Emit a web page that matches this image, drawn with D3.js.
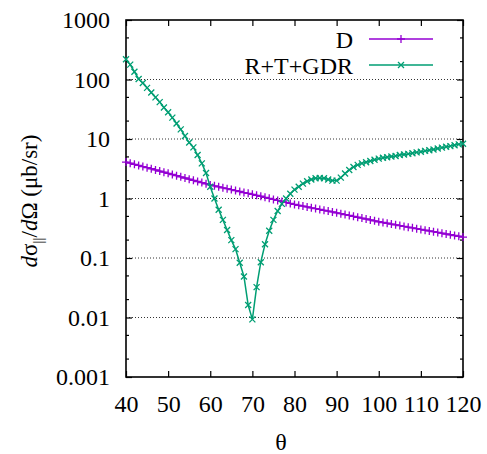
<!DOCTYPE html>
<html>
<head>
<meta charset="utf-8">
<script src="https://cdn.jsdelivr.net/npm/d3@7"></script>
</head>
<body style="margin:0">
<div id="chart"></div>
<script>
// angles, one point per degree
var theta = d3.range(40, 121);

// D
var dValues = [4.10, 3.93, 3.76, 3.60, 3.44, 3.30, 3.16, 3.02, 2.89, 2.77,
  2.65, 2.53, 2.42, 2.31, 2.21, 2.11, 2.02, 1.93, 1.85, 1.77,
  1.69, 1.63, 1.57, 1.51, 1.46, 1.41, 1.36, 1.31, 1.26, 1.22,
  1.175, 1.13, 1.09, 1.045, 1.005, 0.966, 0.929, 0.893, 0.859, 0.826,
  0.794, 0.769, 0.745, 0.721, 0.698, 0.676, 0.655, 0.634, 0.614, 0.594,
  0.575, 0.556, 0.537, 0.519, 0.501, 0.484, 0.468, 0.452, 0.437, 0.422,
  0.407, 0.395, 0.384, 0.372, 0.361, 0.351, 0.340, 0.330, 0.321, 0.311,
  0.302, 0.293, 0.285, 0.277, 0.269, 0.261, 0.253, 0.246, 0.239, 0.232,
  0.225];

// R+T+GDR
var rtgValues = [219, 178, 135, 102, 87.1, 72.4, 60.3, 50.1, 41.7, 33.9,
  28.2, 22.9, 18.2, 14.5, 11.2, 8.71, 7.24, 5.37, 3.89, 2.69,
  1.58, 1.0, 0.646, 0.437, 0.295, 0.2, 0.141, 0.0832, 0.049, 0.0162,
  0.0093, 0.0324, 0.0851, 0.17, 0.288, 0.437, 0.617, 0.813, 1.0, 1.2,
  1.41, 1.58, 1.78, 1.95, 2.09, 2.19, 2.21, 2.19, 2.09, 2.0,
  2.0, 2.24, 2.63, 3.02, 3.39, 3.67, 3.89, 4.07, 4.27, 4.47,
  4.68, 4.84, 4.95, 5.07, 5.19, 5.37, 5.5, 5.62, 5.75, 5.96,
  6.1, 6.31, 6.46, 6.68, 6.92, 7.16, 7.41, 7.59, 7.85, 8.13,
  8.32];

var xTicks = [40, 50, 60, 70, 80, 90, 100, 110, 120];
var yTicks = [0.001, 0.01, 0.1, 1, 10, 100, 1000];
var yTickLabels = ["0.001", "0.01", "0.1", "1", "10", "100", "1000"];
var minorMult = [2, 5];

var seriesNames = ["D", "R+T+GDR"];
var seriesColors = ["#9400d3", "#009e73"];

var svgWidth = 487;
var svgHeight = 454;
var margin = { top: 20, right: 24, bottom: 77, left: 126 };
var width = svgWidth - margin.left - margin.right;
var height = svgHeight - margin.top - margin.bottom;

var svg = d3.select("#chart")
  .append("svg")
  .attr("width", svgWidth)
  .attr("height", svgHeight);

var chartGroup = svg.append("g")
  .attr("transform", `translate(${margin.left}, ${margin.top})`);

var xScale = d3.scaleLinear().domain([40, 120]).range([0, width]);
var yScale = d3.scaleLog().domain([0.001, 1000]).range([height, 0]);

// grid
chartGroup.selectAll(".grid")
  .data(yTicks.slice(1, -1))
  .enter()
  .append("line")
  .attr("x1", 0)
  .attr("x2", width)
  .attr("y1", d => yScale(d))
  .attr("y2", d => yScale(d))
  .attr("stroke", "#333")
  .attr("stroke-width", 1)
  .attr("stroke-dasharray", "1,2");

// axes, ticks pointing inward
var bottomAxis = d3.axisBottom(xScale).tickValues(xTicks).tickSize(-6).tickPadding(18);
var topAxis = d3.axisTop(xScale).tickValues(xTicks).tickSize(-6).tickFormat("");
var leftAxis = d3.axisLeft(yScale).tickValues(yTicks).tickSize(-6).tickPadding(16)
  .tickFormat((d, i) => yTickLabels[i]);
var rightAxis = d3.axisRight(yScale).tickValues(yTicks).tickSize(-6).tickFormat("");

function styleAxis(g) {
  g.attr("font-family", "Liberation Serif").attr("font-size", 24);
  g.select(".domain").remove();
  g.selectAll("line").attr("stroke", "#000").attr("stroke-width", 1.2);
  g.selectAll("text").attr("fill", "#000");
}

chartGroup.append("g").attr("transform", `translate(0, ${height})`).call(bottomAxis).call(styleAxis);
chartGroup.append("g").call(topAxis).call(styleAxis);
chartGroup.append("g").call(leftAxis).call(styleAxis);
chartGroup.append("g").attr("transform", `translate(${width}, 0)`).call(rightAxis).call(styleAxis);

// minor log ticks
var minorVals = [];
yTicks.slice(0, -1).forEach(function(d) {
  minorMult.forEach(function(m) { minorVals.push(d * m); });
});
[[0, 3], [width, -3]].forEach(function(side) {
  chartGroup.selectAll(null)
    .data(minorVals)
    .enter()
    .append("line")
    .attr("x1", side[0])
    .attr("x2", side[0] + side[1])
    .attr("y1", d => yScale(d))
    .attr("y2", d => yScale(d))
    .attr("stroke", "#000")
    .attr("stroke-width", 1.2);
});

// frame
chartGroup.append("rect")
  .attr("width", width)
  .attr("height", height)
  .attr("fill", "none")
  .attr("stroke", "#000")
  .attr("stroke-width", 1.6);

var line = d3.line()
  .x(d => xScale(d[0]))
  .y(d => yScale(d[1]));

function plusPath(s) {
  return `M${-s},0H${s}M0,${-s}V${s}`;
}
function crossPath(s) {
  return `M${-s},${-s}L${s},${s}M${-s},${s}L${s},${-s}`;
}

var seriesData = [dValues, rtgValues].map(vals => theta.map((t, i) => [t, vals[i]]));
var markers = [plusPath(4), crossPath(3)];

seriesData.forEach(function(data, k) {
  chartGroup.append("path")
    .datum(data)
    .attr("d", line)
    .attr("fill", "none")
    .attr("stroke", seriesColors[k])
    .attr("stroke-width", 1.5);

  chartGroup.selectAll(null)
    .data(data)
    .enter()
    .append("path")
    .attr("transform", d => `translate(${xScale(d[0])}, ${yScale(d[1])})`)
    .attr("d", markers[k])
    .attr("stroke", seriesColors[k])
    .attr("stroke-width", 1.3)
    .attr("fill", "none");
});

// legend
var legend = chartGroup.append("g");
seriesNames.forEach(function(name, k) {
  var ly = 20 + k * 26;
  legend.append("text")
    .attr("x", 227)
    .attr("y", ly)
    .attr("dy", "0.33em")
    .attr("text-anchor", "end")
    .attr("font-family", "Liberation Serif")
    .attr("font-size", 24)
    .text(name);
  legend.append("line")
    .attr("x1", 243).attr("x2", 307)
    .attr("y1", ly - 1).attr("y2", ly - 1)
    .attr("stroke", seriesColors[k])
    .attr("stroke-width", 1.5);
  legend.append("path")
    .attr("transform", `translate(275, ${ly - 1})`)
    .attr("d", markers[k])
    .attr("stroke", seriesColors[k])
    .attr("stroke-width", 1.3)
    .attr("fill", "none");
});

// axis titles
svg.append("text")
  .attr("x", 281)
  .attr("y", 450)
  .attr("text-anchor", "middle")
  .attr("font-family", "Liberation Serif")
  .attr("font-size", 24)
  .text("θ");

var yTitle = svg.append("text")
  .attr("transform", "translate(37, 201) rotate(-90)")
  .attr("text-anchor", "middle")
  .attr("font-family", "Liberation Serif")
  .attr("font-size", 23);
yTitle.append("tspan").attr("font-style", "italic").text("d");
yTitle.append("tspan").text("σ");
yTitle.append("tspan").attr("dy", 6).attr("font-size", 15).text("||");
yTitle.append("tspan").attr("dy", -6).text("/");
yTitle.append("tspan").attr("font-style", "italic").text("d");
yTitle.append("tspan").text("Ω (μb/sr)");
</script>
</body>
</html>
